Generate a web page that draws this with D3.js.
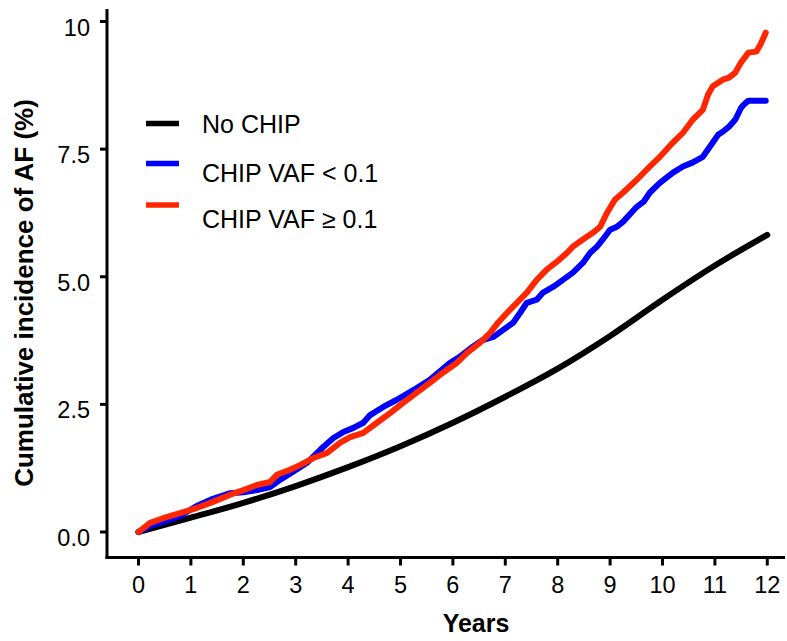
<!DOCTYPE html>
<html>
<head>
<meta charset="utf-8">
<script src="https://cdn.jsdelivr.net/npm/d3@7"></script>
<style>
html,body{margin:0;padding:0;background:#fff;}
text{font-family:"Liberation Sans",Arial,sans-serif;}
</style>
</head>
<body>
<svg id="chart" width="787" height="641"></svg>
<script>
// ---- data ----
const seriesNames = ["No CHIP", "CHIP VAF < 0.1", "CHIP VAF \u2265 0.1"];
const seriesColors = ["#000000", "#0000ff", "#ff2600"];
const xTicks = [0,1,2,3,4,5,6,7,8,9,10,11,12];
const yTicks = [0, 2.5, 5, 7.5, 10];
const yTickLabels = ["0.0", "2.5", "5.0", "7.5", "10"];

const noChipT = [0,1,2,3,4,5,6,7,8,9,10,11,12];
const noChipV = [0,0.28,0.57,0.9,1.27,1.68,2.14,2.65,3.2,3.84,4.55,5.22,5.82];

const lowVafT = [0,0.22,0.47,0.79,1.11,1.42,1.75,2.0,2.26,2.51,2.7,2.95,3.21,3.53,3.72,3.91,4.1,4.29,4.42,4.67,4.93,5.31,5.56,5.94,6.13,6.38,6.57,6.77,6.96,7.15,7.28,7.41,7.6,7.72,7.91,8.1,8.29,8.48,8.62,8.75,8.86,9.0,9.13,9.25,9.4,9.51,9.64,9.76,9.95,10.2,10.39,10.58,10.77,10.96,11.06,11.15,11.27,11.39,11.5,11.55,11.64,11.79,11.97];
const lowVafV = [0,0.12,0.2,0.31,0.51,0.65,0.76,0.78,0.82,0.88,1.02,1.18,1.35,1.67,1.84,1.96,2.04,2.14,2.29,2.45,2.59,2.82,2.98,3.31,3.43,3.63,3.76,3.82,3.96,4.1,4.29,4.49,4.55,4.69,4.8,4.94,5.08,5.27,5.47,5.59,5.73,5.92,5.98,6.08,6.25,6.37,6.47,6.65,6.84,7.04,7.16,7.24,7.35,7.63,7.78,7.84,7.94,8.08,8.31,8.37,8.45,8.45,8.45];

const highVafT = [0,0.22,0.47,0.79,1.11,1.42,1.75,2.0,2.26,2.51,2.64,2.89,3.08,3.34,3.6,3.85,4.04,4.29,4.55,4.8,5.05,5.31,5.56,5.81,6.07,6.27,6.52,6.71,6.86,7.03,7.22,7.41,7.6,7.79,7.98,8.18,8.29,8.48,8.67,8.81,8.94,9.09,9.25,9.51,9.76,9.95,10.2,10.39,10.58,10.77,10.87,10.96,11.15,11.27,11.39,11.5,11.64,11.79,11.87,11.97];
const highVafV = [0,0.18,0.27,0.37,0.47,0.59,0.73,0.82,0.92,0.98,1.12,1.22,1.31,1.45,1.55,1.75,1.86,1.94,2.14,2.33,2.53,2.73,2.92,3.12,3.31,3.51,3.71,3.9,4.1,4.29,4.49,4.69,4.94,5.14,5.29,5.47,5.59,5.73,5.86,5.98,6.25,6.51,6.65,6.9,7.16,7.35,7.63,7.82,8.08,8.27,8.57,8.73,8.86,8.9,9.0,9.2,9.39,9.41,9.55,9.78];

// ---- chart ----
const svg = d3.select("#chart");
const x = d3.scaleLinear().domain([0, 12]).range([138.5, 767.3]);
const y = d3.scaleLinear().domain([0, 10]).range([532, 21.5]);

const axisX0 = 107, axisY0 = 557.5;

// axes lines
svg.append("line").attr("x1", axisX0).attr("x2", axisX0).attr("y1", 9).attr("y2", axisY0 + 1.5)
  .attr("stroke", "#000").attr("stroke-width", 3);
svg.append("line").attr("x1", axisX0 - 1.5).attr("x2", 785).attr("y1", axisY0).attr("y2", axisY0)
  .attr("stroke", "#000").attr("stroke-width", 3);

// y ticks
const yg = svg.append("g");
yTicks.forEach((v, i) => {
  yg.append("line").attr("x1", axisX0 - 7).attr("x2", axisX0).attr("y1", y(v)).attr("y2", y(v))
    .attr("stroke", "#000").attr("stroke-width", 3);
  yg.append("text").attr("x", 90).attr("y", y(v) + 14).attr("text-anchor", "end")
    .attr("font-size", 23.5).attr("fill", "#000").text(yTickLabels[i]);
});
// x ticks
const xg = svg.append("g");
xTicks.forEach(t => {
  xg.append("line").attr("x1", x(t)).attr("x2", x(t)).attr("y1", axisY0).attr("y2", axisY0 + 8)
    .attr("stroke", "#000").attr("stroke-width", 3);
  xg.append("text").attr("x", x(t)).attr("y", 593).attr("text-anchor", "middle")
    .attr("font-size", 23.5).attr("fill", "#000").text(t);
});

// axis titles
svg.append("text").attr("x", 476).attr("y", 631.5).attr("text-anchor", "middle")
  .attr("font-size", 25).attr("font-weight", "bold").text("Years");
svg.append("text").attr("transform", "translate(33,293) rotate(-90)").attr("text-anchor", "middle")
  .attr("font-size", 26).attr("font-weight", "bold").text("Cumulative incidence of AF (%)");

// lines
const data = [
  {t: noChipT, v: noChipV, curve: d3.curveMonotoneX},
  {t: lowVafT, v: lowVafV, curve: d3.curveLinear},
  {t: highVafT, v: highVafV, curve: d3.curveLinear}
];
data.forEach((s, i) => {
  const pts = s.t.map((t, j) => [t, s.v[j]]);
  const line = d3.line().x(d => x(d[0])).y(d => y(d[1])).curve(s.curve);
  svg.append("path").attr("d", line(pts)).attr("fill", "none")
    .attr("stroke", seriesColors[i]).attr("stroke-width", 6)
    .attr("stroke-linejoin", "round").attr("stroke-linecap", "round");
});

// legend
const legLineY = [123.5, 163.5, 205];
const legTextY = [133, 181.5, 228];
seriesNames.forEach((n, i) => {
  svg.append("line").attr("x1", 146).attr("x2", 179).attr("y1", legLineY[i]).attr("y2", legLineY[i])
    .attr("stroke", seriesColors[i]).attr("stroke-width", 5.5);
  svg.append("text").attr("x", 202).attr("y", legTextY[i]).attr("font-size", 25)
    .attr("fill", "#000").text(n);
});
</script>
</body>
</html>
